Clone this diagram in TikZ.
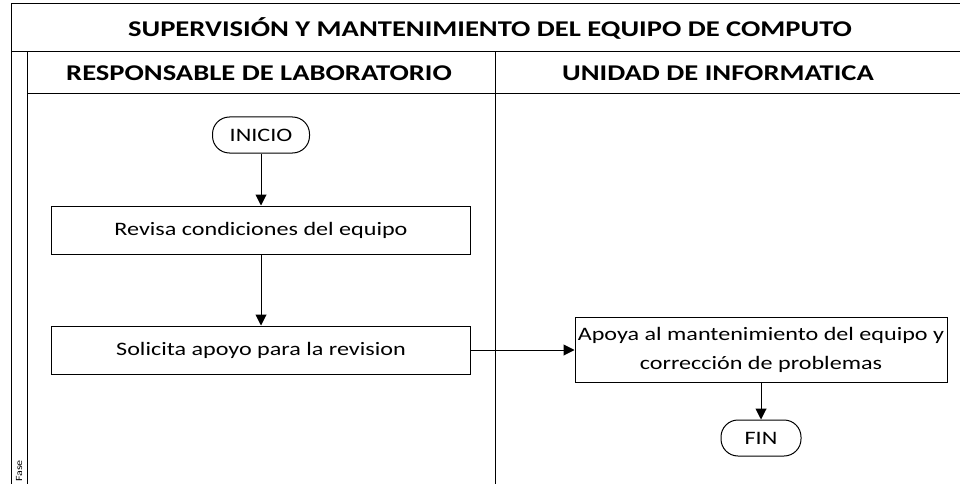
\documentclass[tikz,border=0pt]{standalone}
\usepackage{fontspec}
\setmainfont{Carlito}[FakeStretch=1.27]
\usetikzlibrary{arrows.meta}

\tikzset{
  proc/.style={rectangle, draw, line width=1pt, minimum width=419pt, minimum height=48pt, inner sep=2pt, font=\fontsize{19}{29}\selectfont},
  term/.style={rectangle, draw, line width=1pt, rounded corners=17pt, minimum height=36pt, inner sep=2pt, font=\fontsize{19}{23}\selectfont},
  lanehead/.style={font=\bfseries\fontsize{22.5}{26}\selectfont},
  flow/.style={line width=1pt, -{Triangle[length=11pt,width=11pt]}},
}

\begin{document}
\begin{tikzpicture}[x=1pt, y=-1pt]
                    \useasboundingbox (0,0) rectangle (960,484);
                    % marco del diagrama
                    \draw[line width=1pt] (11,484) -- (11,4) -- (960,4);
                    \draw[line width=1pt] (11,52) -- (960,52);
                    \draw[line width=1pt] (27,484) -- (27,52);
                    \draw[line width=1pt] (27,94) -- (960,94);
                    \draw[line width=1pt] (495,52) -- (495,484);
                    \node (titulo) [lanehead] at (490,28) {SUPERVISIÓN Y MANTENIMIENTO DEL EQUIPO DE COMPUTO};
                    \node (responsable) [lanehead] at (259,73) {RESPONSABLE DE LABORATORIO};
                    \node (unidad) [lanehead] at (718,73) {UNIDAD DE INFORMATICA};
                    \node (fase) [rotate=90, font=\fontsize{9.5}{11}\selectfont, inner sep=0pt] at (19,471) {Fase};
                    % nodos
                    \node (inicio) [term, minimum width=97pt] at (261,135) {INICIO};
                    \node (revisa) [proc] at (261,230) {Revisa condiciones del equipo};
                    \node (solicita) [proc] at (261,350) {Solicita apoyo para la revision};
                    \node (apoya) [proc, minimum width=372pt, minimum height=65pt, align=center] at (761,350) {Apoya al mantenimiento del equipo y\\corrección de problemas};
                    \node (fin) [term, minimum width=80pt] at (761,438) {FIN};
                    % conectores
                    \path[flow] (inicio) edge (revisa);
                    \path[flow] (revisa) edge (solicita);
                    \path[flow] (solicita) edge (apoya);
                    \path[flow] (apoya) edge (fin);
                \end{tikzpicture}
\end{document}
